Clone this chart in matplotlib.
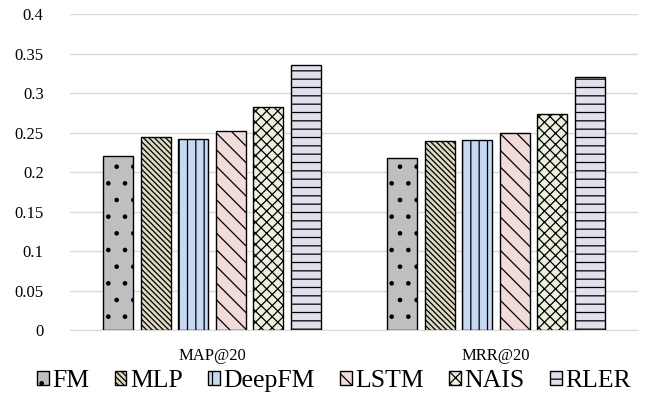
import matplotlib
matplotlib.use("Agg")
import matplotlib.pyplot as plt
import numpy as np

# ----------------------------- data ------------------------------------ #
metrics = ["MAP@20", "MRR@20"]
models = ["FM", "MLP", "DeepFM", "LSTM", "NAIS", "RLER"]
fm = [0.220, 0.218]
mlp = [0.244, 0.239]
deepfm = [0.242, 0.240]
lstm = [0.252, 0.250]
nais = [0.282, 0.274]
rler = [0.335, 0.320]
yticks = [0, 0.05, 0.1, 0.15, 0.2, 0.25, 0.3, 0.35, 0.4]
ytick_labels = ["0", "0.05", "0.1", "0.15", "0.2", "0.25", "0.3", "0.35", "0.4"]

series = [fm, mlp, deepfm, lstm, nais, rler]
colors = ["#BFBFBF", "#DDD9C3", "#C6D9F1", "#F2DCDB", "#EBF1DE", "#E4DFEC"]
hatches = [".", "\\\\\\\\\\\\", "||", "\\\\", "xxx", "--"]

plt.rcParams["font.family"] = "serif"
plt.rcParams["font.serif"] = ["Liberation Serif", "Times New Roman", "DejaVu Serif"]
plt.rcParams["hatch.linewidth"] = 0.9

fig = plt.figure(figsize=(6.49, 4.03), dpi=100)
ax = fig.add_axes([0.108, 0.181, 0.875, 0.784])

x = np.arange(len(metrics))
slot = 0.132
width = 0.106
for i, (vals, name) in enumerate(zip(series, models)):
    offs = (i - (len(models) - 1) / 2) * slot
    ax.bar(x + offs, vals, width, color=colors[i], edgecolor="black",
           linewidth=1.0, hatch=hatches[i], label=name, zorder=3)

ax.set_xlim(-0.5, 1.5)
ax.set_ylim(0, 0.4)
ax.set_yticks(yticks)
ax.set_yticklabels(ytick_labels, fontsize=12)
ax.set_xticks(x)
ax.set_xticklabels(metrics, fontsize=12)
ax.tick_params(axis="y", length=0, pad=19)
ax.tick_params(axis="x", length=0, pad=13)
ax.grid(axis="y", color="#D9D9D9", linewidth=1.0, zorder=0)
for s in ["top", "right", "left"]:
    ax.spines[s].set_visible(False)
ax.spines["bottom"].set_color("#D9D9D9")

fig.legend(*ax.get_legend_handles_labels(), loc="center",
           bbox_to_anchor=(0.515, 0.055), ncol=6, frameon=False,
           fontsize=18.5, handlelength=0.45, handleheight=0.45,
           handletextpad=0.15, columnspacing=0.98, borderpad=0)

fig.savefig("out.png", dpi=100)
